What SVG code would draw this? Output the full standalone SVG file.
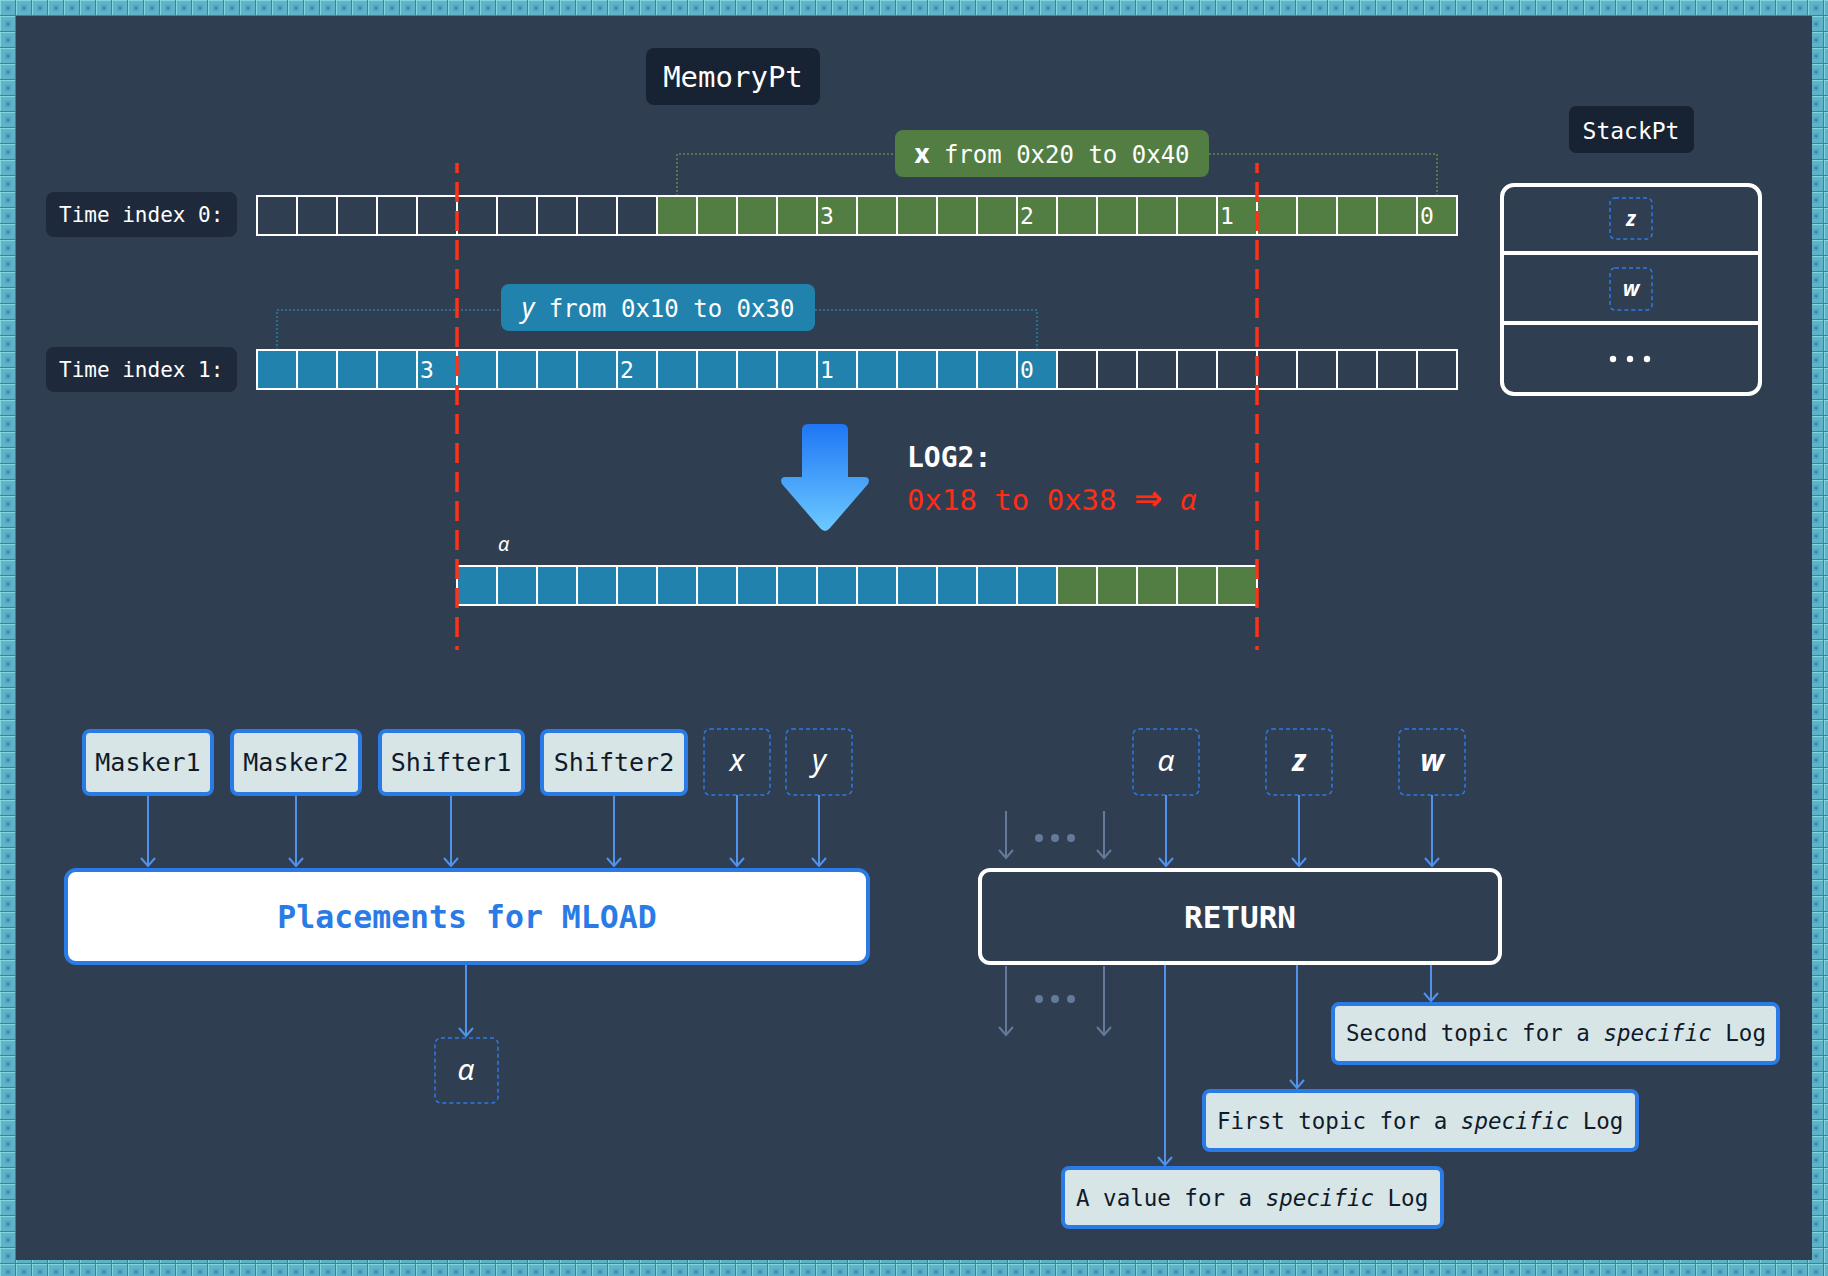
<svg xmlns="http://www.w3.org/2000/svg" width="1828" height="1276" viewBox="0 0 1828 1276">
<defs>
<style>
.mono{font-family:"DejaVu Sans Mono","Liberation Mono",monospace}
.sans{font-family:"Noto Sans","DejaVu Sans",sans-serif}
.it{font-style:italic}
.lbl{fill:#ffffff}
.grid{stroke:#ffffff;stroke-width:2;fill:none}
.red{stroke:#ff3218;stroke-width:3.5;stroke-dasharray:20 9;fill:none}
.node{fill:#d8e5e7;stroke:#2b7be6;stroke-width:4}
.ntext{fill:#0f1a2a;font-size:25px}
.var{fill:none;stroke:#2b7be6;stroke-width:1.5;stroke-dasharray:4 3}
.vtext{fill:#ffffff;font-size:30px}
.conn{stroke:#4f93ee;stroke-width:2;fill:none;marker-end:url(#ab)}
.gconn{stroke:#65799a;stroke-width:2;fill:none;marker-end:url(#ag)}
.logtext{fill:#0f1a2a;font-size:22.5px}
</style>
<pattern id="tile" x="0" y="0" width="16" height="16" patternUnits="userSpaceOnUse">
<rect width="16" height="16" fill="#3c7fae"/>
<rect width="15" height="15" fill="#86d3e2"/>
<rect x="1" y="1" width="14" height="14" fill="#5eb3c7"/>
<rect x="5" y="5" width="6" height="6" fill="#54a3bf"/>
<rect x="7" y="7" width="2" height="2" fill="#3a78a8"/>
</pattern>
<linearGradient id="arrowGrad" x1="0" y1="0" x2="0" y2="1">
<stop offset="0" stop-color="#1f76f5"/>
<stop offset="1" stop-color="#6ccaff"/>
</linearGradient>
<marker id="ab" viewBox="-10 -10 20 20" refX="0" refY="0" markerWidth="20" markerHeight="20" markerUnits="userSpaceOnUse" orient="auto">
<path d="M-8,-7 L0,0 L-8,7" fill="none" stroke="#4f93ee" stroke-width="2"/>
</marker>
<marker id="ag" viewBox="-10 -10 20 20" refX="0" refY="0" markerWidth="20" markerHeight="20" markerUnits="userSpaceOnUse" orient="auto">
<path d="M-8,-7 L0,0 L-8,7" fill="none" stroke="#65799a" stroke-width="2"/>
</marker>
</defs>

<!-- frame -->
<rect width="1828" height="1276" fill="url(#tile)"/>
<rect x="16" y="16" width="1796" height="1244" fill="#303e52"/>

<!-- titles -->
<g id="memorypt">
<rect x="646" y="48" width="174" height="57" rx="8" fill="#172232"/>
<text x="733" y="87" text-anchor="middle" class="mono lbl" font-size="29">MemoryPt</text>
</g>
<g id="stackpt">
<rect x="1569" y="106" width="125" height="47" rx="7" fill="#172232"/>
<text x="1631" y="139" text-anchor="middle" class="mono lbl" font-size="23">StackPt</text>
</g>

<!-- stack -->
<g id="stack">
<rect x="1502" y="185" width="258" height="209" rx="12" fill="none" stroke="#ffffff" stroke-width="4"/>
<line x1="1502" y1="253" x2="1760" y2="253" stroke="#ffffff" stroke-width="4"/>
<line x1="1502" y1="323" x2="1760" y2="323" stroke="#ffffff" stroke-width="4"/>
<rect x="1610" y="198" width="42" height="41" rx="5" class="var"/>
<text x="1631" y="226" text-anchor="middle" class="sans it lbl" font-size="21" font-weight="bold">z</text>
<rect x="1610" y="268" width="42" height="42" rx="5" class="var"/>
<text x="1631" y="296" text-anchor="middle" class="sans it lbl" font-size="21" font-weight="bold">w</text>
<circle cx="1613" cy="359" r="3.2" fill="#ffffff"/>
<circle cx="1630" cy="359" r="3.2" fill="#ffffff"/>
<circle cx="1647" cy="359" r="3.2" fill="#ffffff"/>
</g>

<!-- time index labels -->
<g id="time0">
<rect x="46" y="192" width="191" height="45" rx="8" fill="#1e2a3b"/>
<text x="59" y="222" class="mono lbl" font-size="21">Time index 0:</text>
</g>
<g id="time1">
<rect x="46" y="347" width="191" height="45" rx="8" fill="#1e2a3b"/>
<text x="59" y="377" class="mono lbl" font-size="21">Time index 1:</text>
</g>

<!-- brackets -->
<g id="brackets">
<path d="M677,196 V154 H895 M1209,154 H1437 V196" fill="none" stroke="#56744f" stroke-width="2" stroke-dasharray="2 2"/>
<path d="M277,350 V310 H501 M815,310 H1037 V350" fill="none" stroke="#2a6d91" stroke-width="2" stroke-dasharray="2 2"/>
</g>

<g id="xlabel">
<rect x="895" y="130" width="314" height="47" rx="8" fill="#537e43"/>
<text x="1052" y="163" text-anchor="middle" class="mono lbl" font-size="24"><tspan class="sans" font-weight="bold" font-size="26">x</tspan> from 0x20 to 0x40</text>
</g>
<g id="ylabel">
<rect x="501" y="284" width="314" height="47" rx="8" fill="#2183ad"/>
<text x="658" y="317" text-anchor="middle" class="mono lbl" font-size="24"><tspan class="sans it" font-size="27">y</tspan> from 0x10 to 0x30</text>
</g>

<!-- row 0 -->
<g id="row0">
<rect x="657" y="196" width="800" height="39" fill="#537e43"/>
<rect x="257" y="196" width="1200" height="39" class="grid"/>
<path class="grid" d="M297,196v39M337,196v39M377,196v39M417,196v39M457,196v39M497,196v39M537,196v39M577,196v39M617,196v39M657,196v39M697,196v39M737,196v39M777,196v39M817,196v39M857,196v39M897,196v39M937,196v39M977,196v39M1017,196v39M1057,196v39M1097,196v39M1137,196v39M1177,196v39M1217,196v39M1257,196v39M1297,196v39M1337,196v39M1377,196v39M1417,196v39"/>
<g class="mono lbl" font-size="23">
<text x="820" y="224">3</text><text x="1020" y="224">2</text><text x="1220" y="224">1</text><text x="1420" y="224">0</text>
</g>
</g>

<!-- row 1 -->
<g id="row1">
<rect x="257" y="350" width="800" height="39" fill="#2183ad"/>
<rect x="257" y="350" width="1200" height="39" class="grid"/>
<path class="grid" d="M297,350v39M337,350v39M377,350v39M417,350v39M457,350v39M497,350v39M537,350v39M577,350v39M617,350v39M657,350v39M697,350v39M737,350v39M777,350v39M817,350v39M857,350v39M897,350v39M937,350v39M977,350v39M1017,350v39M1057,350v39M1097,350v39M1137,350v39M1177,350v39M1217,350v39M1257,350v39M1297,350v39M1337,350v39M1377,350v39M1417,350v39"/>
<g class="mono lbl" font-size="23">
<text x="420" y="378">3</text><text x="620" y="378">2</text><text x="820" y="378">1</text><text x="1020" y="378">0</text>
</g>
</g>

<!-- alpha row -->
<g id="alpharow">
<rect x="457" y="566" width="600" height="39" fill="#2183ad"/>
<rect x="1057" y="566" width="200" height="39" fill="#537e43"/>
<rect x="457" y="566" width="800" height="39" class="grid"/>
<path class="grid" d="M497,566v39M537,566v39M577,566v39M617,566v39M657,566v39M697,566v39M737,566v39M777,566v39M817,566v39M857,566v39M897,566v39M937,566v39M977,566v39M1017,566v39M1057,566v39M1097,566v39M1137,566v39M1177,566v39M1217,566v39"/>
<text x="498" y="551" class="sans it lbl" font-size="20">α</text>
</g>

<!-- red dashed cut lines -->
<g id="cuts">
<line x1="457" y1="163" x2="457" y2="650" class="red" stroke-dashoffset="10"/>
<line x1="1257" y1="163" x2="1257" y2="650" class="red" stroke-dashoffset="10"/>
</g>

<!-- big arrow and LOG2 -->
<g id="log2">
<path d="M802,430 Q802,424 808,424 H842 Q848,424 848,430 V477 H864 Q871,477 868,484 L830,528 Q825,534 820,528 L782,484 Q779,477 786,477 H802 Z" fill="url(#arrowGrad)"/>
<text x="907" y="467" class="mono lbl" font-size="28" font-weight="bold">LOG2:</text>
<text x="907" y="510" class="mono" font-size="29" fill="#ff2d14">0x18 to 0x38 <tspan font-family="DejaVu Sans, sans-serif" font-size="34" font-weight="bold">⇒</tspan> <tspan class="sans it">α</tspan></text>
</g>

<!-- left nodes -->
<g id="masker1"><rect x="84" y="731" width="128" height="63" rx="6" class="node"/><text x="148" y="771" text-anchor="middle" class="mono ntext">Masker1</text></g>
<g id="masker2"><rect x="232" y="731" width="128" height="63" rx="6" class="node"/><text x="296" y="771" text-anchor="middle" class="mono ntext">Masker2</text></g>
<g id="shifter1"><rect x="380" y="731" width="143" height="63" rx="6" class="node"/><text x="451" y="771" text-anchor="middle" class="mono ntext">Shifter1</text></g>
<g id="shifter2"><rect x="542" y="731" width="144" height="63" rx="6" class="node"/><text x="614" y="771" text-anchor="middle" class="mono ntext">Shifter2</text></g>
<g id="varx"><rect x="704" y="729" width="66" height="66" rx="6" class="var"/><text x="737" y="771" text-anchor="middle" class="sans it vtext">x</text></g>
<g id="vary"><rect x="786" y="729" width="66" height="66" rx="6" class="var"/><text x="819" y="771" text-anchor="middle" class="sans it vtext">y</text></g>

<g id="placements">
<rect x="66" y="870" width="802" height="93" rx="10" fill="#ffffff" stroke="#2b7be6" stroke-width="4"/>
<text x="467" y="928" text-anchor="middle" class="mono" font-size="31.5" font-weight="bold" fill="#2b7be6">Placements for MLOAD</text>
</g>
<g id="alphaout"><rect x="435" y="1038" width="63" height="65" rx="6" class="var"/><text x="466" y="1080" text-anchor="middle" class="sans it vtext">α</text></g>

<!-- right nodes -->
<g id="alphain"><rect x="1133" y="729" width="66" height="66" rx="6" class="var"/><text x="1166" y="771" text-anchor="middle" class="sans it vtext">α</text></g>
<g id="varz"><rect x="1266" y="729" width="66" height="66" rx="6" class="var"/><text x="1299" y="771" text-anchor="middle" class="sans it vtext" font-weight="bold">z</text></g>
<g id="varw"><rect x="1399" y="729" width="66" height="66" rx="6" class="var"/><text x="1432" y="771" text-anchor="middle" class="sans it vtext" font-weight="bold">w</text></g>

<g id="return">
<rect x="980" y="870" width="520" height="93" rx="10" fill="#303e52" stroke="#ffffff" stroke-width="4"/>
<text x="1240" y="928" text-anchor="middle" class="mono lbl" font-size="31" font-weight="bold">RETURN</text>
</g>

<g id="dots" fill="#65799a">
<circle cx="1039" cy="838" r="4"/><circle cx="1055" cy="838" r="4"/><circle cx="1071" cy="838" r="4"/>
<circle cx="1039" cy="999" r="4"/><circle cx="1055" cy="999" r="4"/><circle cx="1071" cy="999" r="4"/>
</g>

<g id="topic2"><rect x="1333" y="1004" width="445" height="59" rx="6" class="node"/><text x="1346" y="1041" class="mono logtext">Second topic for a <tspan class="it">specific</tspan> Log</text></g>
<g id="topic1"><rect x="1204" y="1091" width="433" height="59" rx="6" class="node"/><text x="1217" y="1129" class="mono logtext">First topic for a <tspan class="it">specific</tspan> Log</text></g>
<g id="value"><rect x="1063" y="1168" width="379" height="59" rx="6" class="node"/><text x="1076" y="1206" class="mono logtext">A value for a <tspan class="it">specific</tspan> Log</text></g>

<!-- connectors -->
<g id="connectors">
<path class="conn" d="M148,796 V866"/>
<path class="conn" d="M296,796 V866"/>
<path class="conn" d="M451,796 V866"/>
<path class="conn" d="M614,796 V866"/>
<path class="conn" d="M737,795 V866"/>
<path class="conn" d="M819,795 V866"/>
<path class="conn" d="M466,965 V1036"/>
<path class="conn" d="M1166,795 V866"/>
<path class="conn" d="M1299,795 V866"/>
<path class="conn" d="M1432,795 V866"/>
<path class="gconn" d="M1006,811 V858"/>
<path class="gconn" d="M1104,811 V858"/>
<path class="gconn" d="M1006,966 V1035"/>
<path class="gconn" d="M1104,966 V1035"/>
<path class="conn" d="M1165,965 V1165"/>
<path class="conn" d="M1297,965 V1088"/>
<path class="conn" d="M1431,965 V1001"/>
</g>
</svg>
